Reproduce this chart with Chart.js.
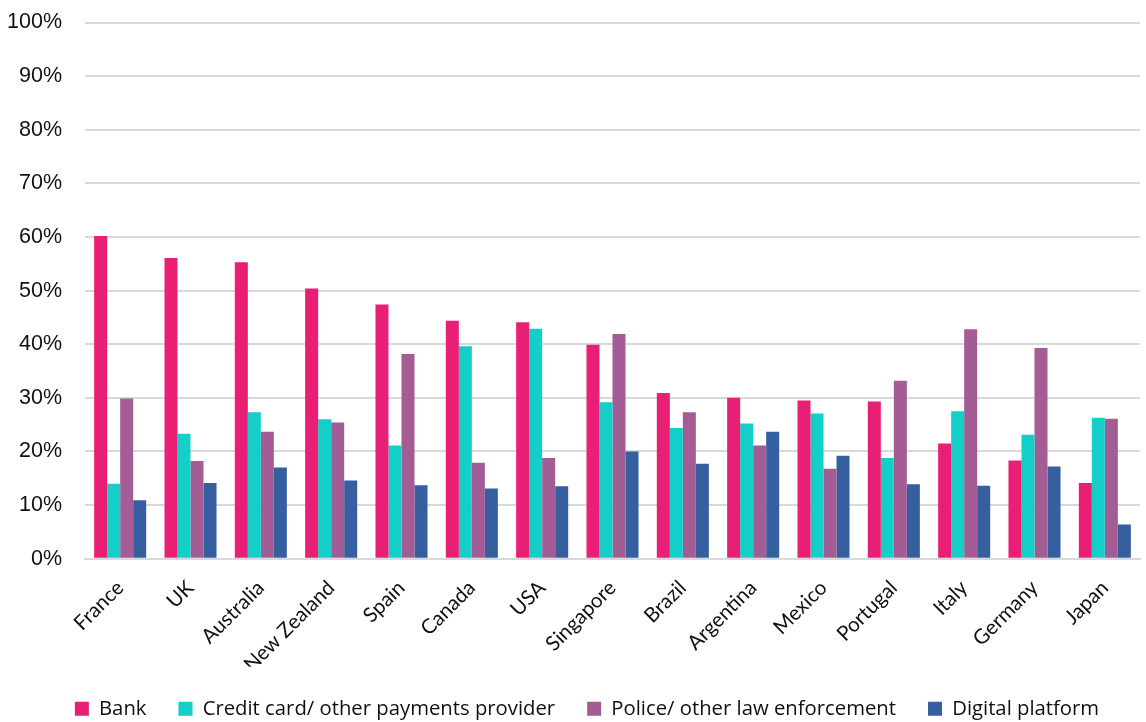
<!DOCTYPE html>
<html>
<head>
<meta charset="utf-8">
<script src="https://cdn.jsdelivr.net/npm/chart.js@4"></script>
<style>
  html, body { margin: 0; padding: 0; background: #fff; }
  #wrap { width: 1146px; height: 722px; }
</style>
</head>
<body>
<div id="wrap"><canvas id="reportChart"></canvas></div>
<script>
const countries = ['France', 'UK', 'Australia', 'New Zealand', 'Spain', 'Canada', 'USA', 'Singapore',
    'Brazil', 'Argentina', 'Mexico', 'Portugal', 'Italy', 'Germany', 'Japan'];
const bank = [60.2, 56.1, 55.3, 50.4, 47.4, 44.4, 44.1, 39.9, 30.9, 30.0, 29.5, 29.3, 21.5, 18.3, 14.1];
const paymentsProvider = [14.0, 23.3, 27.3, 26.0, 21.1, 39.6, 42.9, 29.2, 24.4, 25.2, 27.1, 18.8, 27.5, 23.1, 26.3];
const lawEnforcement = [29.9, 18.2, 23.7, 25.4, 38.2, 17.9, 18.8, 41.9, 27.3, 21.1, 16.8, 33.2, 42.8, 39.3, 26.1];
const digitalPlatform = [10.9, 14.1, 17.0, 14.6, 13.7, 13.1, 13.5, 20.0, 17.7, 23.7, 19.2, 13.9, 13.6, 17.2, 6.4];
const yTicks = [0, 10, 20, 30, 40, 50, 60, 70, 80, 90, 100];

// nudges the legend row a little to the right of the canvas centre
const legendShift = {
    id: 'legendShift',
    beforeDraw(chart) {
        if (chart.legend && !chart.legend._shifted) {
            chart.legend.left += 14;
            chart.legend.right += 14;
            chart.legend._shifted = true;
        }
    }
};

document.addEventListener('DOMContentLoaded', function () {
    const series = [
        { label: 'Bank', data: bank, color: '#E91E75' },
        { label: 'Credit card/ other payments provider', data: paymentsProvider, color: '#13CFC8' },
        { label: 'Police/ other law enforcement', data: lawEnforcement, color: '#A45C94' },
        { label: 'Digital platform', data: digitalPlatform, color: '#355F9E' }
    ];

    new Chart(document.getElementById('reportChart'), {
        type: 'bar',
        data: {
            labels: countries,
            datasets: series.map(s => ({
                label: s.label,
                data: s.data,
                backgroundColor: s.color,
                borderWidth: 0,
                barPercentage: 1,
                categoryPercentage: 0.74
            }))
        },
        plugins: [legendShift],
        options: {
            responsive: true,
            maintainAspectRatio: false,
            animation: false,
            layout: {
                padding: { top: 0, right: 6, left: 6, bottom: -7 }
            },
            plugins: {
                tooltip: { enabled: false },
                legend: {
                    position: 'bottom',
                    labels: {
                        color: '#111',
                        font: { family: 'Open Sans', size: 20.3 },
                        boxWidth: 14,
                        boxHeight: 14,
                        padding: 32
                    }
                }
            },
            scales: {
                x: {
                    grid: { display: false },
                    border: { color: '#d9d9d9', width: 2 },
                    ticks: {
                        color: '#111',
                        font: { family: 'Lato', size: 20.5 },
                        autoSkip: false,
                        minRotation: 45,
                        maxRotation: 45,
                        padding: 9
                    },
                    afterFit: axis => {
                        axis.paddingLeft = 0;
                        axis.paddingRight = 0;
                        axis.height -= 19;
                    }
                },
                y: {
                    min: 0,
                    max: 100,
                    afterBuildTicks: axis => {
                        axis.ticks = yTicks.map(v => ({ value: v }));
                    },
                    grid: { color: '#d9d9d9', lineWidth: 2, drawTicks: false },
                    border: { display: false },
                    ticks: {
                        color: '#111',
                        font: { family: 'Liberation Sans', size: 21.5 },
                        padding: 23,
                        callback: v => v + '%'
                    },
                    afterFit: axis => {
                        axis.width = 79;
                        axis.paddingTop = 22.5;
                        axis.paddingBottom = 0;
                    }
                }
            }
        }
    });
});
</script>
</body>
</html>
